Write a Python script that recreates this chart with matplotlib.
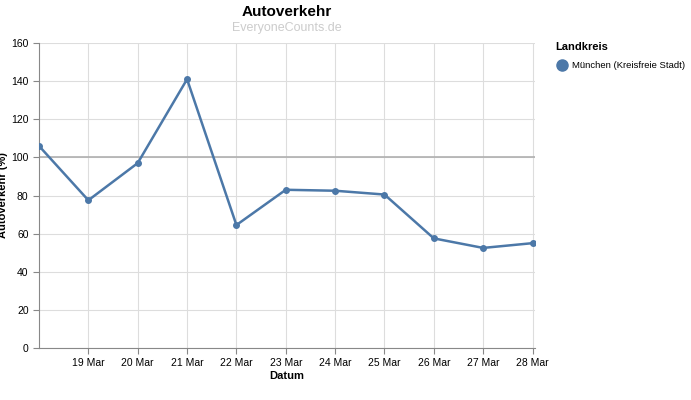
import matplotlib
matplotlib.use("Agg")
import matplotlib.pyplot as plt
import numpy as np

days = [18, 19, 20, 21, 22, 23, 24, 25, 26, 27, 28]
values = [106, 77.5, 97, 141, 64.5, 83, 82.5, 80.5, 57.5, 52.5, 55]
tick_days = [19, 20, 21, 22, 23, 24, 25, 26, 27, 28]
tick_labels = [f"{d} Mar" for d in tick_days]
series = "München (Kreisfreie Stadt)"
color = "#4c78a8"

plt.rcParams['font.family'] = ['Liberation Sans', 'DejaVu Sans']
fig = plt.figure(figsize=(6.91, 4.0), dpi=100)
ax = fig.add_axes([39/691, 52/400, 496/691, 305/400])
ax.plot(days, values, color=color, lw=1.8, marker='o', ms=4, zorder=3)
ax.axhline(100, color='#b0b0b0', lw=1.2, zorder=2)
ax.set_xlim(18, 28.05)
ax.set_ylim(0, 160)
ax.set_xticks(tick_days)
ax.set_xticklabels(tick_labels)
ax.set_yticks(range(0, 161, 20))
ax.grid(True, color='#dddddd', lw=0.8)
ax.set_axisbelow(True)
for s in ['top', 'right']:
    ax.spines[s].set_visible(False)
for s in ['left', 'bottom']:
    ax.spines[s].set_color('#888888')
ax.tick_params(labelsize=7.5, colors='#888888', labelcolor='black', length=4)
ax.set_xlabel("Datum", fontsize=8, fontweight='bold', labelpad=2)
ax.set_ylabel("Autoverkehr (%)", fontsize=8, fontweight='bold')
ax.yaxis.set_label_coords(-31/496, 0.5)
fig.text(287/691, 1-12/400, "Autoverkehr", ha='center', va='center', fontsize=11, fontweight='bold')
fig.text(287/691, 1-28/400, "EveryoneCounts.de", ha='center', va='center', fontsize=9, color='#cccccc')
fig.text(555/691, 1-47/400, "Landkreis", ha='left', va='center', fontsize=8, fontweight='bold')
fig.lines.append(matplotlib.lines.Line2D([562/691], [1-65/400], marker='o', ms=8, color=color, transform=fig.transFigure))
fig.text(572/691, 1-65/400, series, ha='left', va='center', fontsize=6.8)
fig.savefig("out.png", dpi=100)
